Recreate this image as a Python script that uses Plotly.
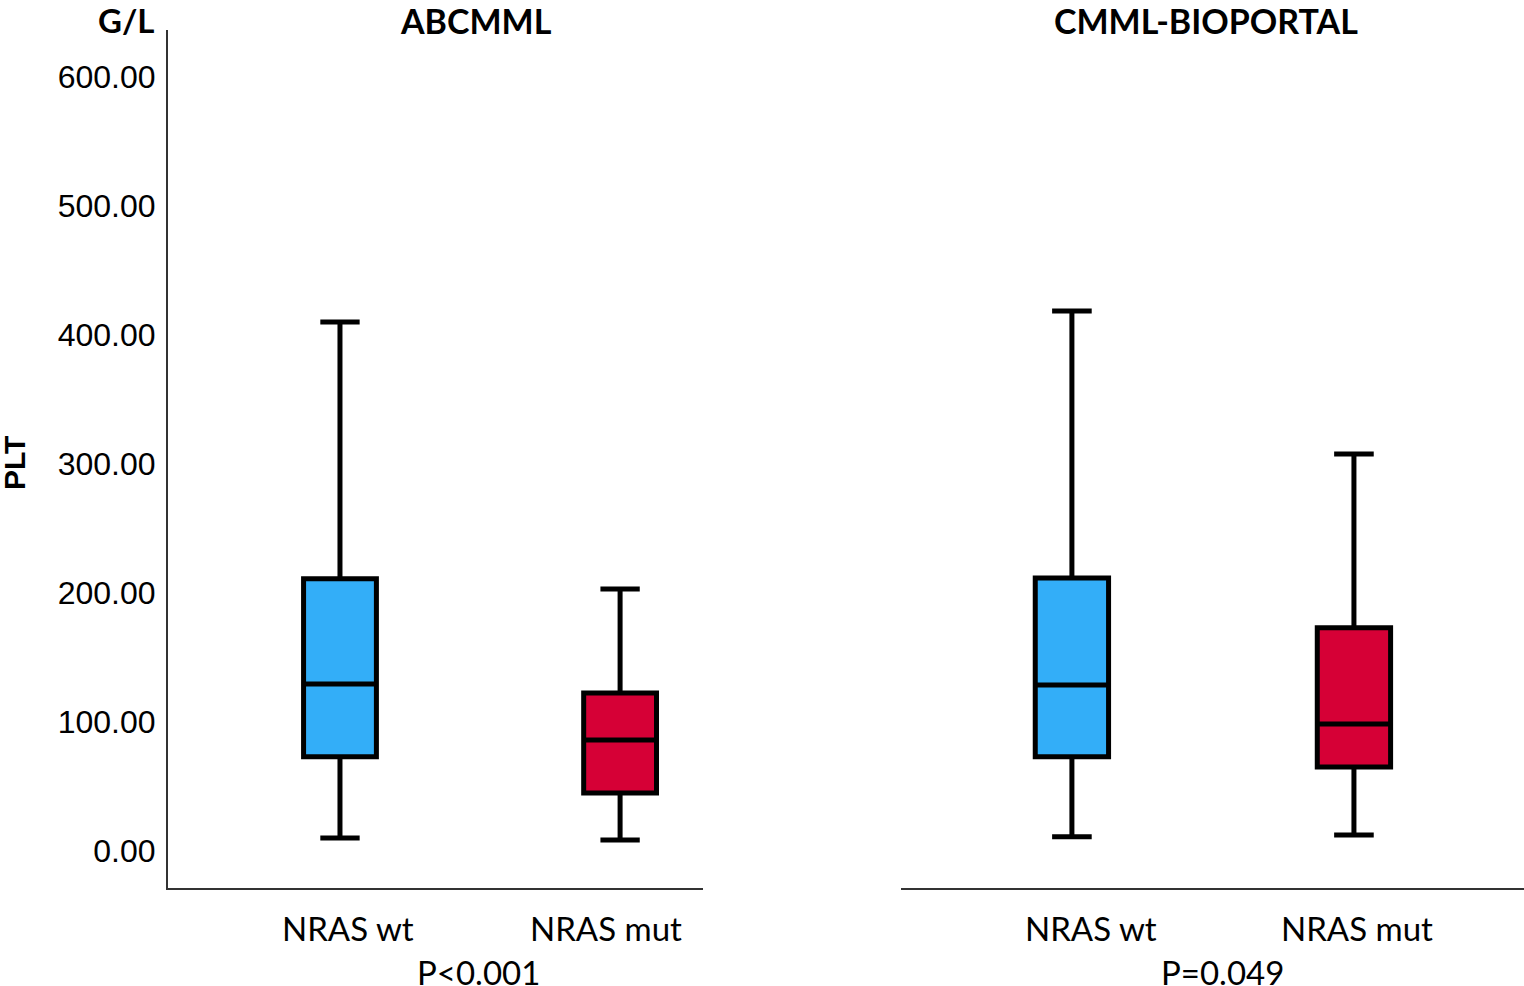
import plotly.graph_objects as go

# ---- data ----
groups = ["NRAS wt", "NRAS mut"]
panels = ["ABCMML", "CMML-BIOPORTAL"]
pvalues = ["P<0.001", "P=0.049"]

abc_q1 = [73, 45]
abc_median = [129.5, 86]
abc_q3 = [211, 122.5]
abc_low = [10, 8.5]
abc_high = [410, 203]

bio_q1 = [73, 65]
bio_median = [128.7, 98.4]
bio_q3 = [211.6, 173]
bio_low = [11, 12.4]
bio_high = [418.6, 307.7]

y_ticks = [0, 100, 200, 300, 400, 500, 600]
y_tick_labels = ["0.00", "100.00", "200.00", "300.00", "400.00", "500.00", "600.00"]

colors = ["#33AEF8", "#D60036"]

fig = go.Figure()

def add_panel(q1, med, q3, lo, hi, xa, ya):
    for i, g in enumerate(groups):
        fig.add_trace(go.Box(
            x=[g], q1=[q1[i]], median=[med[i]], q3=[q3[i]],
            lowerfence=[lo[i]], upperfence=[hi[i]],
            fillcolor=colors[i], line=dict(color="black", width=5),
            width=0.26, whiskerwidth=0.54, boxpoints=False,
            showlegend=False, hoverinfo="skip", xaxis=xa, yaxis=ya))

add_panel(abc_q1, abc_median, abc_q3, abc_low, abc_high, "x", "y")
add_panel(bio_q1, bio_median, bio_q3, bio_low, bio_high, "x2", "y2")

W, H = 1524, 986
yr = [-28.7, 636.4]
ydom = [(H - 888) / H, (H - 30) / H]
tickfont = dict(family="Liberation Sans, Arial", size=32, color="black")
xfont = dict(family="Lato, Open Sans", size=33, color="black")

fig.update_layout(
    width=W, height=H,
    margin=dict(l=0, r=0, t=0, b=0),
    paper_bgcolor="white", plot_bgcolor="white",
    xaxis=dict(domain=[168 / W, 703 / W], type="category", range=[-0.614, 1.296],
               showline=True, linecolor="#333333", linewidth=2, showgrid=False,
               zeroline=False, showticklabels=False, anchor="y"),
    yaxis=dict(domain=ydom, range=yr, showline=True, linecolor="#333333", linewidth=2,
               showgrid=False, zeroline=False, tickvals=y_ticks, ticktext=y_tick_labels,
               ticks="outside", ticklen=4, tickcolor="rgba(0,0,0,0)",
               tickfont=tickfont, anchor="x"),
    xaxis2=dict(domain=[901 / W, 1.0], type="category", range=[-0.606, 1.603],
                showline=True, linecolor="#333333", linewidth=2, showgrid=False,
                zeroline=False, showticklabels=False, anchor="y2"),
    yaxis2=dict(domain=ydom, range=yr, showline=False, showgrid=False, zeroline=False,
                showticklabels=False, anchor="x2"),
)

title_font = dict(family="Lato, Open Sans", size=34, color="black")
ann = [
    dict(text="<b>G/L</b>", x=156 / W, y=(H - 20) / H, xanchor="right", yanchor="middle",
         xref="paper", yref="paper",
         font=dict(family="Lato, Open Sans", size=33, color="black")),
    dict(text="<b>" + panels[0] + "</b>", x=476 / W, y=(H - 20) / H, xanchor="center",
         yanchor="middle", xref="paper", yref="paper", font=title_font),
    dict(text="<b>" + panels[1] + "</b>", x=1206 / W, y=(H - 20) / H, xanchor="center",
         yanchor="middle", xref="paper", yref="paper", font=title_font),
    dict(text="<b>PLT</b>", x=15 / W, y=(H - 463) / H, xanchor="center", yanchor="middle",
         xref="paper", yref="paper", textangle=-90,
         font=dict(family="Liberation Sans, Arial", size=30, color="black")),
    dict(text=pvalues[0], x=479 / W, y=(H - 972) / H, xanchor="center", yanchor="middle",
         xref="paper", yref="paper", font=xfont),
    dict(text=pvalues[1], x=1222 / W, y=(H - 972) / H, xanchor="center", yanchor="middle",
         xref="paper", yref="paper", font=xfont),
]
# category labels under each panel
label_shift = [[8, -14], [19, 3]]
for p, (xr, yr_) in enumerate([("x", "y"), ("x2", "y2")]):
    for i, g in enumerate(groups):
        ann.append(dict(text=g, x=g, xref=xr, y=(H - 928) / H, yref="paper",
                        xanchor="center", yanchor="middle", xshift=label_shift[p][i],
                        font=xfont))
for a in ann:
    a.update(showarrow=False)
fig.update_layout(annotations=ann)

fig.write_html("out.html", config={"displayModeBar": False},
               post_script="document.body.style.margin='0';document.body.style.overflow='hidden';")
